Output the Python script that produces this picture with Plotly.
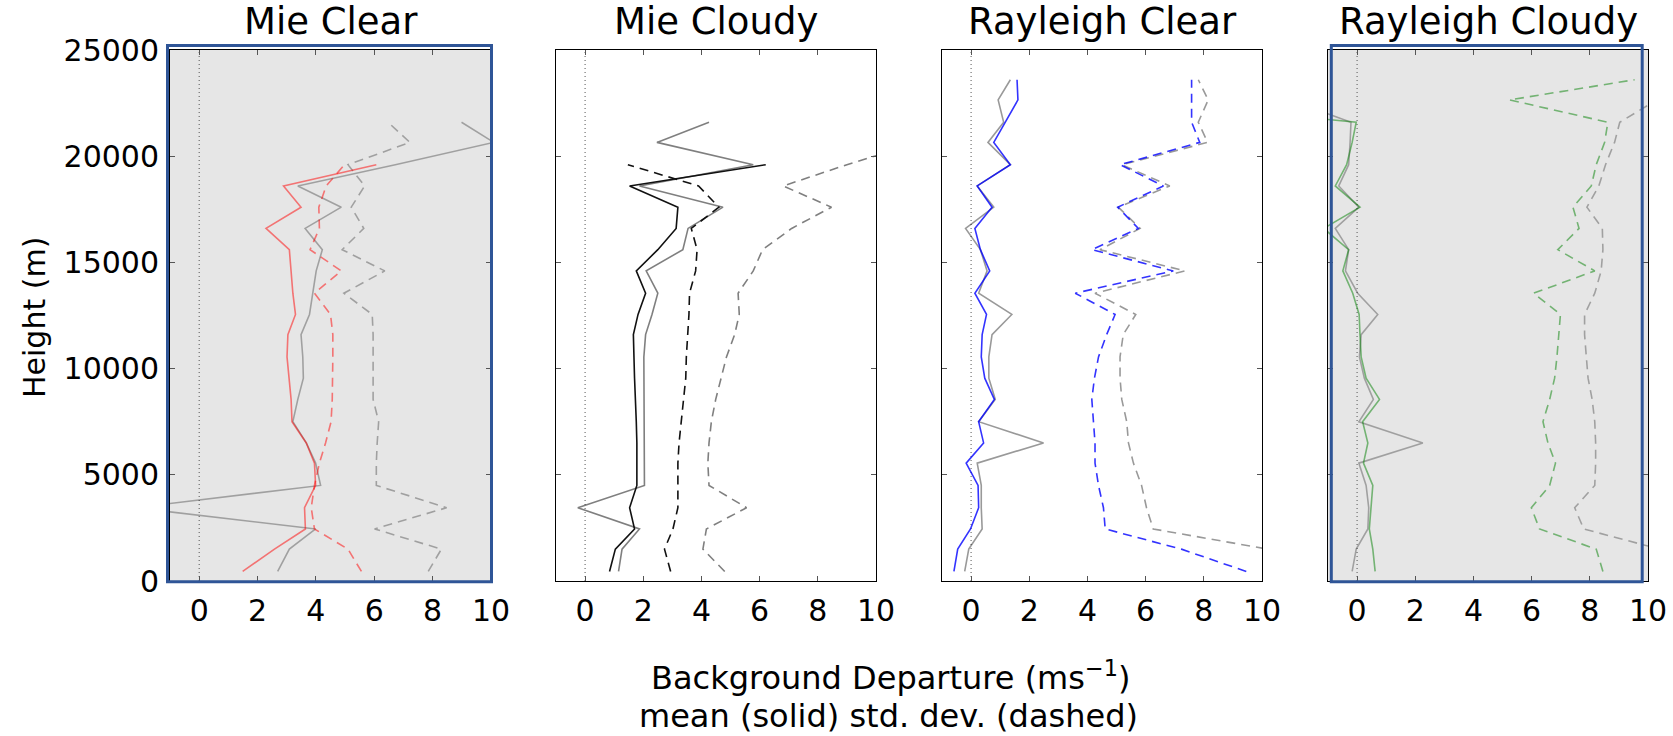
import plotly.graph_objects as go

# Height levels (m), shared by every profile
heights = [450, 1500, 2450, 3450, 4500, 5550, 6500, 7500, 8550, 9550, 10550, 11600,
           12550, 13550, 14600, 15600, 16600, 17600, 18600, 19600, 20650, 21600, 22650, 23600]

# Mie Clear
mie_clear_mean = [1.49, 2.58, 3.64, 3.61, 3.99, 3.95, 3.67, 3.18, 3.15, 3.09, 3.01, 3.04,
                  3.30, 3.21, 3.15, 3.09, 2.29, 3.49, 2.89, 6.07, None, None, None, None]
mie_clear_mean_ref = [2.69, 3.09, 3.99, -2.2, 4.16, 3.99, 3.67, 3.21, 3.38, 3.57, 3.55, 3.49,
                      3.78, 3.89, 4.01, 4.22, 3.63, 4.87, 3.38, 6.72, 10.1, 8.99, None, None]
mie_clear_std = [5.56, 5.10, 3.95, 3.84, 3.95, 4.12, 4.33, 4.52, 4.56, 4.58, 4.58, 4.58,
                 4.50, 3.95, 4.87, 3.80, 4.12, 4.10, 4.35, 4.98, None, None, None, None]
mie_clear_std_ref = [7.85, 8.30, 6.01, 8.48, 6.07, 6.07, 6.10, 6.15, 5.96, 5.96, 5.96, 5.96,
                     5.93, 4.96, 6.36, 4.90, 5.64, 5.21, 5.67, 5.10, 7.22, 6.47, None, None]

# Mie Cloudy
mie_cloudy_mean = [0.84, 1.04, 1.70, 1.53, 1.78, 1.79, 1.78, 1.76, 1.72, 1.70, 1.68, 1.66,
                   1.82, 2.08, 1.76, 2.50, 3.13, 3.19, 1.53, 6.21, None, None, None, None]
mie_cloudy_mean_ref = [1.15, 1.27, 1.87, -0.25, 2.04, 2.04, 2.03, 2.02, 2.02, 2.02, 2.02, 2.08,
                       2.30, 2.50, 2.10, 3.36, 3.54, 4.74, 1.87, 5.78, 2.47, 4.26, None, None]
mie_cloudy_std = [2.94, 2.73, 3.02, 3.19, 3.19, 3.19, 3.23, 3.31, 3.40, 3.46, 3.48, 3.54,
                  3.57, 3.59, 3.80, 3.85, 3.65, 4.60, 3.90, 1.47, None, None, None, None]
mie_cloudy_std_ref = [4.80, 4.05, 4.17, 5.55, 4.26, 4.22, 4.26, 4.34, 4.49, 4.68, 4.86, 5.14,
                      5.30, 5.26, 5.78, 6.10, 7.10, 8.47, 6.81, 9.00, 11.5, None, None, None]

# Rayleigh Clear
ray_clear_mean = [-0.59, -0.46, -0.02, 0.26, 0.24, -0.17, 0.43, 0.26, 0.80, 0.47, 0.35, 0.38,
                  0.53, 0.13, 0.64, 0.32, 0.13, 0.72, 0.21, 1.35, 0.78, 1.18, 1.61, 1.58]
ray_clear_mean_ref = [-0.22, -0.08, 0.38, 0.35, 0.35, 0.21, 2.49, 0.26, 0.83, 0.61, 0.61, 0.72,
                      1.40, 0.26, 0.55, 0.32, -0.19, 0.78, 0.21, 1.35, 0.58, 1.12, 0.93, 1.35]
ray_clear_std = [9.46, 7.23, 4.61, 4.55, 4.38, 4.26, 4.26, 4.21, 4.15, 4.24, 4.38, 4.66,
                 4.95, 3.58, 6.95, 4.15, 5.75, 5.04, 6.61, 5.12, 7.86, 7.58, 7.58, 7.58]
ray_clear_std_ref = [12.0, 10.2, 6.26, 6.03, 5.86, 5.58, 5.41, 5.35, 5.18, 5.12, 5.12, 5.23,
                     5.66, 4.26, 7.35, 4.43, 5.81, 5.06, 6.83, 5.18, 8.13, 7.81, 8.15, 7.81]

# Rayleigh Cloudy
ray_cloudy_mean = [0.62, 0.54, 0.42, 0.48, 0.54, 0.22, 0.37, 0.19, 0.77, 0.31, 0.14, 0.10,
                   0.07, -0.15, -0.49, -0.29, -1.15, 0.10, -0.75, -0.36, -0.17, -0.03, -8.0, None]
ray_cloudy_mean_ref = [-0.17, -0.03, 0.37, 0.40, 0.31, 0.06, 2.26, 0.06, 0.56, 0.25, 0.08, 0.14,
                       0.71, 0.02, -0.40, -0.29, -0.75, 0.06, -0.63, -0.29, -0.24, -0.21, -2.3, None]
ray_cloudy_std = [8.45, 8.22, 6.27, 5.99, 6.62, 6.82, 6.56, 6.39, 6.62, 6.79, 6.87, 6.94,
                  6.99, 6.07, 8.17, 6.90, 7.63, 7.42, 8.05, 8.22, 8.51, 8.62, 5.24, 9.54]
ray_cloudy_std_ref = [12.0, 10.4, 7.79, 7.48, 8.17, 8.20, 8.20, 8.17, 8.08, 7.94, 7.88, 7.82,
                      7.82, 8.17, 8.39, 8.45, 8.43, 7.90, 8.31, 8.54, 8.85, 9.03, 10.3, None]

titles = ["Mie Clear", "Mie Cloudy", "Rayleigh Clear", "Rayleigh Cloudy"]
x_ticks = [0, 2, 4, 6, 8, 10]
y_ticks = [0, 5000, 10000, 15000, 20000, 25000]
y_tick_labels = ["0", "5000", "10000", "15000", "20000", "25000"]

W, H = 1673, 736
FONT = "DejaVu Sans"

panel_px = [(170, 491), (556, 876), (942, 1262), (1328, 1648)]
top_px, bottom_px = 50, 581


def fx(px):
    return px / W


def fy(py):
    return 1 - py / H


panels = [
    dict(mean=mie_clear_mean, mean_ref=mie_clear_mean_ref, std=mie_clear_std, std_ref=mie_clear_std_ref,
         color="rgba(255,0,0,0.5)", ref="rgba(0,0,0,0.3)", shaded=True),
    dict(mean=mie_cloudy_mean, mean_ref=mie_cloudy_mean_ref, std=mie_cloudy_std, std_ref=mie_cloudy_std_ref,
         color="#111111", ref="rgba(0,0,0,0.5)", shaded=False),
    dict(mean=ray_clear_mean, mean_ref=ray_clear_mean_ref, std=ray_clear_std, std_ref=ray_clear_std_ref,
         color="rgba(0,0,255,0.8)", ref="rgba(0,0,0,0.4)", shaded=False),
    dict(mean=ray_cloudy_mean, mean_ref=ray_cloudy_mean_ref, std=ray_cloudy_std, std_ref=ray_cloudy_std_ref,
         color="rgba(0,128,0,0.5)", ref="rgba(0,0,0,0.3)", shaded=True),
]

DASH = "9px,6px"
fig = go.Figure()
shapes = []
annotations = []

for i, p in enumerate(panels):
    n = "" if i == 0 else str(i + 1)
    xa, ya = "x" + n, "y" + n
    series = [
        (p["mean_ref"], p["ref"], "solid"),
        (p["std_ref"], p["ref"], DASH),
        (p["mean"], p["color"], "solid"),
        (p["std"], p["color"], DASH),
    ]
    for vals, col, dash in series:
        fig.add_trace(go.Scatter(x=vals, y=heights, mode="lines", xaxis=xa, yaxis=ya,
                                 line=dict(color=col, width=1.6, dash=dash),
                                 showlegend=False, hoverinfo="skip"))

    x0, x1 = panel_px[i]
    common = dict(showline=True, linecolor="black", linewidth=1, mirror="ticks",
                  ticks="inside", ticklen=5, tickwidth=1, tickcolor="#555555",
                  showgrid=False, zeroline=False, automargin=False,
                  tickfont=dict(family=FONT, size=30, color="black"))
    fig.layout["xaxis" + n] = dict(domain=[fx(x0), fx(x1)], range=[-1, 10], tickvals=x_ticks,
                                   anchor=ya, ticklabelstandoff=3, **common)
    fig.layout["yaxis" + n] = dict(domain=[fy(bottom_px), fy(top_px)], range=[0, 25000],
                                   tickvals=y_ticks, ticktext=y_tick_labels, anchor=xa,
                                   showticklabels=(i == 0), ticklabelstandoff=4, **common)

    if p["shaded"]:
        shapes.append(dict(type="rect", xref=xa + " domain", yref=ya + " domain",
                           x0=0, x1=1, y0=0, y1=1, fillcolor="#e6e6e6",
                           line=dict(width=0), layer="below"))
    shapes.append(dict(type="line", xref=xa, yref=ya + " domain", x0=0, x1=0, y0=0, y1=1,
                       line=dict(color="#555555", width=1, dash="1px,3px"), layer="below"))

    annotations.append(dict(text=titles[i], xref="paper", yref="paper",
                            x=fx((x0 + x1) / 2), y=fy(22), xanchor="center", yanchor="middle",
                            showarrow=False, font=dict(family=FONT, size=37, color="black")))

# highlight frames around the shaded panels
for bx0, bx1 in [(167.5, 491.5), (1331.3, 1642.2)]:
    shapes.append(dict(type="rect", xref="paper", yref="paper",
                       x0=fx(bx0), x1=fx(bx1), y0=fy(581.7), y1=fy(45.5),
                       line=dict(color="#2f5597", width=3), layer="above"))

annotations.append(dict(text="Height (m)", xref="paper", yref="paper", x=fx(34), y=fy(318),
                        xanchor="center", yanchor="middle", textangle=-90, showarrow=False,
                        font=dict(family=FONT, size=30, color="black")))
annotations.append(dict(text="Background Departure (ms<sup>\u22121</sup>)", xref="paper", yref="paper",
                        x=fx(890), y=fy(676), xanchor="center", yanchor="middle", showarrow=False,
                        font=dict(family=FONT, size=32, color="black")))
annotations.append(dict(text="mean (solid) std. dev. (dashed)", xref="paper", yref="paper",
                        x=fx(888), y=fy(716), xanchor="center", yanchor="middle", showarrow=False,
                        font=dict(family=FONT, size=32, color="black")))

fig.update_layout(width=W, height=H, margin=dict(l=0, r=0, t=0, b=0, autoexpand=False),
                  paper_bgcolor="white", plot_bgcolor="white",
                  shapes=shapes, annotations=annotations,
                  font=dict(family=FONT, color="black"))

fig.write_html("out.html")
